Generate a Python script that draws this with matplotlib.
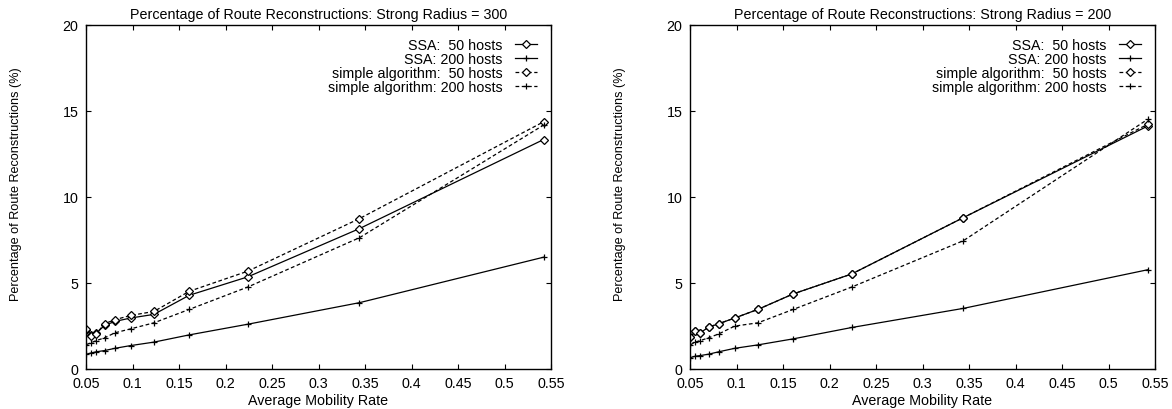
import matplotlib
matplotlib.use("Agg")
import matplotlib.pyplot as plt

plt.rcParams['font.family'] = ['Liberation Sans', 'DejaVu Sans']

# Average mobility rate of each simulation run
mobility = [0.0505, 0.0555, 0.061, 0.070, 0.081, 0.098, 0.123, 0.161, 0.224, 0.344, 0.542]

# Strong radius = 300
ssa50_r300 = [2.28, 1.98, 2.08, 2.53, 2.76, 2.96, 3.17, 4.28, 5.35, 8.15, 13.32]
ssa200_r300 = [0.86, 0.93, 1.00, 1.07, 1.20, 1.36, 1.56, 1.98, 2.60, 3.85, 6.49]
simple50_r300 = [2.33, 1.90, 2.04, 2.63, 2.86, 3.11, 3.34, 4.51, 5.68, 8.73, 14.35]
simple200_r300 = [1.42, 1.52, 1.65, 1.81, 2.10, 2.33, 2.68, 3.46, 4.76, 7.62, 14.16]

# Strong radius = 200
ssa50_r200 = [1.85, 2.18, 2.10, 2.43, 2.63, 2.96, 3.46, 4.36, 5.52, 8.79, 14.10]
ssa200_r200 = [0.66, 0.74, 0.78, 0.86, 1.00, 1.20, 1.40, 1.75, 2.41, 3.52, 5.76]
simple50_r200 = [1.85, 2.18, 2.10, 2.43, 2.63, 2.96, 3.46, 4.36, 5.52, 8.79, 14.20]
simple200_r200 = [1.40, 1.56, 1.65, 1.81, 2.04, 2.49, 2.68, 3.46, 4.76, 7.45, 14.49]

series_labels = ["SSA:  50 hosts", "SSA: 200 hosts",
                 "simple algorithm:  50 hosts", "simple algorithm: 200 hosts"]
radii = [300, 200]
xticks = [0.05, 0.1, 0.15, 0.2, 0.25, 0.3, 0.35, 0.4, 0.45, 0.5, 0.55]
yticks = [0, 5, 10, 15, 20]

panels = [
    (ssa50_r300, ssa200_r300, simple50_r300, simple200_r300),
    (ssa50_r200, ssa200_r200, simple50_r200, simple200_r200),
]

W, H = 1172, 410
FS = 10.3
fig = plt.figure(figsize=(W / 100, H / 100), dpi=100)

axes_px = [(86, 25.5, 551, 370), (690, 25.5, 1155, 370)]

styles = [
    dict(ls='-', marker='D', ms=3.8, mfc='white'),
    dict(ls='-', marker='+', ms=5),
    dict(ls=(0, (3, 2)), marker='D', ms=3.8, mfc='white'),
    dict(ls=(0, (3, 2)), marker='+', ms=5),
]

for (x0, y0, x1, y1), radius, data in zip(axes_px, radii, panels):
    ax = fig.add_axes([x0 / W, 1 - y1 / H, (x1 - x0) / W, (y1 - y0) / H])
    for vals, lab, st in zip(data, series_labels, styles):
        ax.plot(mobility, vals, color='black', lw=0.9, mec='black', mew=0.9,
                label=lab, **st)
    ax.set_xlim(0.05, 0.55)
    ax.set_ylim(0, 20)
    ax.set_xticks(xticks)
    ax.set_xticklabels([f"{t:g}" for t in xticks])
    ax.set_yticks(yticks)
    ax.tick_params(direction='in', top=True, right=True, length=3.6, width=0.8,
                   labelsize=FS)
    ax.tick_params(axis='x', pad=5)
    ax.tick_params(axis='y', pad=5.5)
    for sp in ax.spines.values():
        sp.set_linewidth(1.0)
    ax.set_title(f"Percentage of Route Reconstructions: Strong Radius = {radius}",
                 fontsize=FS, pad=5)
    ax.set_xlabel("Average Mobility Rate", fontsize=FS, labelpad=2)
    ax.set_ylabel("Percentage of Route Reconstructions (%)", fontsize=9.1)
    ax.yaxis.set_label_coords(-0.1376, 0.54)
    ax.legend(loc='upper right', bbox_to_anchor=(0.970, 0.9622), frameon=False,
              markerfirst=False, fontsize=FS, handlelength=1.55,
              handletextpad=0.85, labelspacing=0.0, borderpad=0,
              borderaxespad=0)

fig.savefig("out.png", dpi=100)
